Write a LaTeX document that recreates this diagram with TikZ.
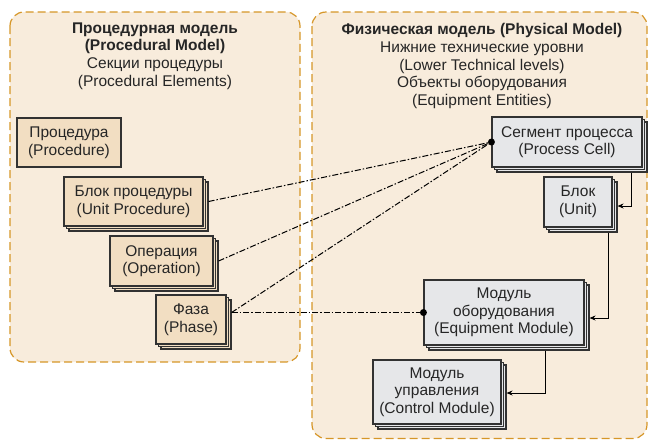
\documentclass[tikz,border=0pt]{standalone}
\usepackage{fontspec}
\setmainfont{Liberation Sans}
\usetikzlibrary{arrows.meta,shadows}

\definecolor{panelfill}{RGB}{248,236,220}
\definecolor{paneldraw}{RGB}{214,150,40}
\definecolor{procfill}{RGB}{242,222,194}
\definecolor{physfill}{RGB}{230,231,233}
\definecolor{boxdraw}{RGB}{50,50,50}

\tikzset{
  panel/.style={draw=paneldraw, fill=panelfill, line width=1.2pt,
    dash pattern=on 8pt off 4pt, rounded corners=14pt},
  txt/.style={align=center, inner sep=0pt, text=black!85,
    font=\fontsize{15.5}{17.6}\selectfont},
  elem/.style={txt, draw=boxdraw, line width=1.1pt},
  proc/.style={elem, fill=procfill},
  phys/.style={elem, fill=physfill},
  stack/.style={double copy shadow={shadow xshift=2.5pt, shadow yshift=-2.5pt}},
  link/.style={line width=1pt, dash pattern=on 6pt off 2pt on 1.5pt off 2pt},
  flow/.style={line width=1pt, -{Stealth[length=6pt,width=5pt]}},
  dot/.style={circle, fill=black, inner sep=0pt, minimum size=7pt}
}

\begin{document}
\begin{tikzpicture}[x=1pt,y=-1pt]

\clip (0,0) rectangle (649,440);

\draw[panel] (10,12) rectangle (300,362);
\draw[panel] (312,12) rectangle (647,438.5);

\node[txt] (ptitle) at (155,56)
  {\bfseries Процедурная модель\\ \bfseries (Procedural Model)\\ Секции процедуры\\ (Procedural Elements)};
\node[txt] (ftitle) at (482,66)
  {\bfseries Физическая модель (Physical Model)\\ Нижние технические уровни\\ (Lower Technical levels)\\ Объекты оборудования\\ (Equipment Entities)};

\node[proc, minimum width=104, minimum height=49] (proc) at (69,142.5) {Процедура\\ (Procedure)};
\node[proc, stack, minimum width=139, minimum height=49] (uproc) at (133.5,201.5) {Блок процедуры\\ (Unit Procedure)};
\node[proc, stack, minimum width=103, minimum height=50] (oper) at (161.5,261) {Операция\\ (Operation)};
\node[proc, stack, minimum width=70, minimum height=49] (phase) at (191,319.5) {Фаза\\ (Phase)};

\node[phys, stack, minimum width=150, minimum height=50] (pc) at (567,142) {Сегмент процесса\\ (Process Cell)};
\node[phys, stack, minimum width=68, minimum height=50] (unit) at (578,202) {Блок\\ (Unit)};
\node[phys, stack, minimum width=160, minimum height=65] (em) at (504,312.5) {Модуль\\ оборудования\\ (Equipment Module)};
\node[phys, stack, minimum width=128, minimum height=64] (cm) at (437,392) {Модуль\\ управления\\ (Control Module)};

\node[dot] (pcdot) at (pc.west) {};
\node[dot] (emdot) at (em.west) {};

\foreach \b in {uproc,oper}
  \draw[link] ([xshift=5pt]\b.east) -- (pcdot);
\draw[link] ([xshift=5pt]phase.east |- emdot) -- (pcdot);
\draw[link] ([xshift=5pt]phase.east |- emdot) -- (emdot);

\draw[flow] ([xshift=64pt,yshift=-5pt]pc.south) |- ([xshift=5pt,yshift=-4pt]unit.east);
\draw[flow] ([xshift=30pt,yshift=-5pt]unit.south) |- ([xshift=5pt,yshift=-5.5pt]em.east);
\draw[flow] ([xshift=41pt,yshift=-5pt]em.south) |- ([xshift=5pt,yshift=-1pt]cm.east);

\end{tikzpicture}
\end{document}
